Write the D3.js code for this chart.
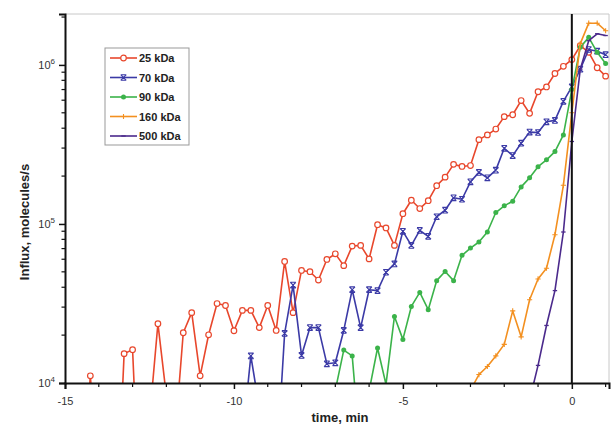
<!DOCTYPE html>
<html>
<head>
<meta charset="utf-8">
<script src="https://cdn.jsdelivr.net/npm/d3@7"></script>
<style>
  html, body { margin: 0; padding: 0; background: #fff; }
  svg { display: block; font-family: "Liberation Sans", Arial, sans-serif; }
</style>
</head>
<body>
<svg id="chart" width="615" height="432"></svg>
<script>
// ---- DATA ----
const time = [-14.5,-14.25,-14,-13.75,-13.5,-13.25,-13,-12.75,-12.5,-12.25,-12,-11.75,-11.5,-11.25,-11,-10.75,-10.5,-10.25,-10,-9.75,-9.5,-9.25,-9,-8.75,-8.5,-8.25,-8,-7.75,-7.5,-7.25,-7,-6.75,-6.5,-6.25,-6,-5.75,-5.5,-5.25,-5,-4.75,-4.5,-4.25,-4,-3.75,-3.5,-3.25,-3,-2.75,-2.5,-2.25,-2,-1.75,-1.5,-1.25,-1,-0.75,-0.5,-0.25,0,0.25,0.5,0.75,1];

const kda25 = [2000,11100,2000,1000,1000,15300,16200,1000,5900,23600,8300,4400,20700,27700,11100,20100,31600,30700,21300,28600,28600,22300,30700,21400,58100,27700,51000,50100,44400,59800,64900,54700,72600,73300,60300,98900,94400,73300,116000,141000,125000,140000,174000,197000,237000,230000,233000,339000,363000,395000,473000,486000,597000,496000,678000,727000,883000,980000,1080000,1320000,1200000,960000,850000];

const kda70 = [null,null,null,null,null,null,null,null,null,null,null,null,null,null,null,null,null,null,null,4400,14800,7000,3000,2700,20500,41300,14900,22300,22300,13200,13400,21400,38600,22300,38600,38100,49700,56100,89900,73300,91000,83600,111000,122000,146000,143000,184000,211000,195000,218000,299000,269000,322000,378000,376000,439000,448000,590000,727000,940000,1250000,1220000,1160000];

const kda90 = [null,null,null,null,null,null,null,null,null,null,null,null,null,null,null,null,null,null,null,null,null,null,null,null,null,null,null,null,null,null,9000,16100,14800,3500,8900,16600,9800,26200,18800,30300,37100,28900,44000,50200,44000,63500,70500,77000,89000,118000,130000,139000,171000,195000,229000,253000,285000,363000,700000,1290000,1490000,1200000,1020000];

const kda160 = [null,null,null,null,null,null,null,null,null,null,null,null,null,null,null,null,null,null,null,null,null,null,null,null,null,null,null,null,null,null,null,null,null,null,null,null,null,null,null,null,null,null,null,null,null,null,9000,11300,12700,14800,17500,28400,19500,33400,45100,52700,85600,175000,500000,1360000,1830000,1830000,1640000];

const kda500 = [null,null,null,null,null,null,null,null,null,null,null,null,null,null,null,null,null,null,null,null,null,null,null,null,null,null,null,null,null,null,null,null,null,null,null,null,null,null,null,null,null,null,null,null,null,null,null,null,null,null,null,null,null,7800,12900,23000,38100,89000,330000,940000,1420000,1570000,1530000];

const seriesNames = ["25 kDa","70 kDa","90 kDa","160 kDa","500 kDa"];
const seriesColors = ["#e8472c","#3b3aa6","#3bb34a","#f39020","#4b2a8c"];
const seriesMarkers = ["circle","x","dot","plus","dash"];
const seriesValues = [kda25, kda70, kda90, kda160, kda500];

const xTickValues = [-15,-10,-5,0];
const xMinorTicks = [-14,-13,-12,-11,-9,-8,-7,-6,-4,-3,-2,-1,1];
const yTickValues = [1e4,1e5,1e6];
const yTickExponents = ["4","5","6"];

// ---- LAYOUT ----
const svg = d3.select("#chart");
const L = 65, R = 609, T = 14, B = 383;
const x = d3.scaleLinear().domain([-15, 1.1]).range([L, R]);
const y = d3.scaleLog().domain([1e4, 2.09e6]).range([B, T]);

svg.append("defs").append("clipPath").attr("id","plotclip")
  .append("rect").attr("x",L).attr("y",T).attr("width",R-L).attr("height",B-T);

svg.append("line").attr("x1",L).attr("x2",R).attr("y1",T).attr("y2",T).attr("stroke","#c8c8c8").attr("stroke-width",1);
svg.append("line").attr("x1",R).attr("x2",R).attr("y1",T).attr("y2",B).attr("stroke","#c8c8c8").attr("stroke-width",1);

const g = svg.append("g");
seriesValues.forEach((vals, si) => {
  const pts = time.map((t,i)=>({t, v: vals[i]})).filter(d => d.v !== null);
  const line = d3.line().x(d=>x(d.t)).y(d=>y(d.v));
  const col = seriesColors[si];
  const sg = g.append("g");
  sg.append("path").datum(pts).attr("d", line)
    .attr("fill","none").attr("stroke",col).attr("stroke-width",1.6)
    .attr("stroke-linejoin","round").attr("clip-path","url(#plotclip)");
  const vis = pts.filter(d => d.v >= 1e4 && d.t <= 1.1);
  drawMarkers(sg, vis.map(d=>[x(d.t), y(d.v)]), seriesMarkers[si], col);
});

function drawMarkers(sel, coords, type, col) {
  coords.forEach(([cx,cy]) => {
    if (type === "circle") {
      sel.append("circle").attr("cx",cx).attr("cy",cy).attr("r",2.8)
        .attr("fill","#fff").attr("stroke",col).attr("stroke-width",1.2);
    } else if (type === "dot") {
      sel.append("circle").attr("cx",cx).attr("cy",cy).attr("r",2.5).attr("fill",col);
    } else if (type === "x") {
      const s = 2.8;
      sel.append("path").attr("d",`M${cx-s},${cy-s}L${cx+s},${cy+s}M${cx-s},${cy+s}L${cx+s},${cy-s}M${cx-s},${cy-s}L${cx+s},${cy-s}M${cx-s},${cy+s}L${cx+s},${cy+s}`)
        .attr("stroke",col).attr("stroke-width",1.1).attr("fill","none");
    } else if (type === "plus") {
      const s = 2.6;
      sel.append("path").attr("d",`M${cx-s},${cy}L${cx+s},${cy}M${cx},${cy-s}L${cx},${cy+s}`)
        .attr("stroke",col).attr("stroke-width",1.1);
    } else if (type === "dash") {
      const s = 2.2;
      sel.append("path").attr("d",`M${cx-s},${cy}L${cx+s},${cy}`)
        .attr("stroke",col).attr("stroke-width",1.3);
    }
  });
}

svg.append("line").attr("x1",x(0)).attr("x2",x(0)).attr("y1",T).attr("y2",B)
  .attr("stroke","#111").attr("stroke-width",2);

const xAxis = svg.append("g").attr("transform",`translate(0,${B})`)
  .call(d3.axisBottom(x).tickValues(xTickValues).tickSize(6).tickPadding(8).tickFormat(d3.format("d")));
xAxis.select(".domain").attr("stroke","#111").attr("stroke-width",2);
xAxis.selectAll(".tick line").attr("stroke","#111").attr("stroke-width",1.5);
xAxis.selectAll("text").attr("font-size",11).attr("fill","#333").text(d => d < 0 ? "-" + Math.abs(d) : d);
xAxis.selectAll(".minor").data(xMinorTicks).enter().append("line")
  .attr("x1",d=>x(d)).attr("x2",d=>x(d)).attr("y1",0).attr("y2",4)
  .attr("stroke","#111").attr("stroke-width",1.2);

const yMinor = [];
[1e4,1e5,1e6].forEach(dec => { for (let k=2;k<=9;k++) if (dec*k <= 2.09e6) yMinor.push(dec*k); });
const yAxis = svg.append("g").attr("transform",`translate(${L},0)`)
  .call(d3.axisLeft(y).tickValues(yTickValues).tickSize(6).tickPadding(4).tickFormat(""));
yAxis.select(".domain").attr("stroke","#111").attr("stroke-width",2);
yAxis.selectAll(".tick line").attr("stroke","#111").attr("stroke-width",1.5);
yAxis.selectAll(".tick text").each(function(d,i){
  const t = d3.select(this).attr("font-size",11).attr("fill","#333");
  t.text("");
  t.append("tspan").text("10");
  t.append("tspan").attr("dy",-5).attr("font-size",8).text(yTickExponents[i]);
});
yAxis.selectAll(".minor").data(yMinor).enter().append("line")
  .attr("x1",0).attr("x2",-3.5).attr("y1",d=>y(d)).attr("y2",d=>y(d))
  .attr("stroke","#111").attr("stroke-width",1.2);

svg.append("text").attr("x",340).attr("y",422).attr("text-anchor","middle")
  .attr("font-size",13).attr("font-weight","bold").attr("fill","#222").text("time, min");
svg.append("text").attr("transform","translate(29,222) rotate(-90)").attr("text-anchor","middle")
  .attr("font-size",13).attr("font-weight","bold").attr("fill","#222").text("Influx, molecules/s");

const lg = svg.append("g").attr("transform","translate(105,48)");
lg.append("rect").attr("x",0).attr("y",0).attr("width",84).attr("height",97)
  .attr("fill","#fff").attr("stroke","#999").attr("stroke-width",1);
seriesNames.forEach((name, i) => {
  const yy = 10 + i*19.5;
  const row = lg.append("g");
  row.append("line").attr("x1",5).attr("x2",32).attr("y1",yy).attr("y2",yy)
    .attr("stroke",seriesColors[i]).attr("stroke-width",1.6);
  drawMarkers(row, [[18.5, yy]], seriesMarkers[i], seriesColors[i]);
  row.append("text").attr("x",34).attr("y",yy+4).attr("font-size",11).attr("font-weight","bold")
    .attr("fill","#222").text(name);
});
</script>
</body>
</html>
